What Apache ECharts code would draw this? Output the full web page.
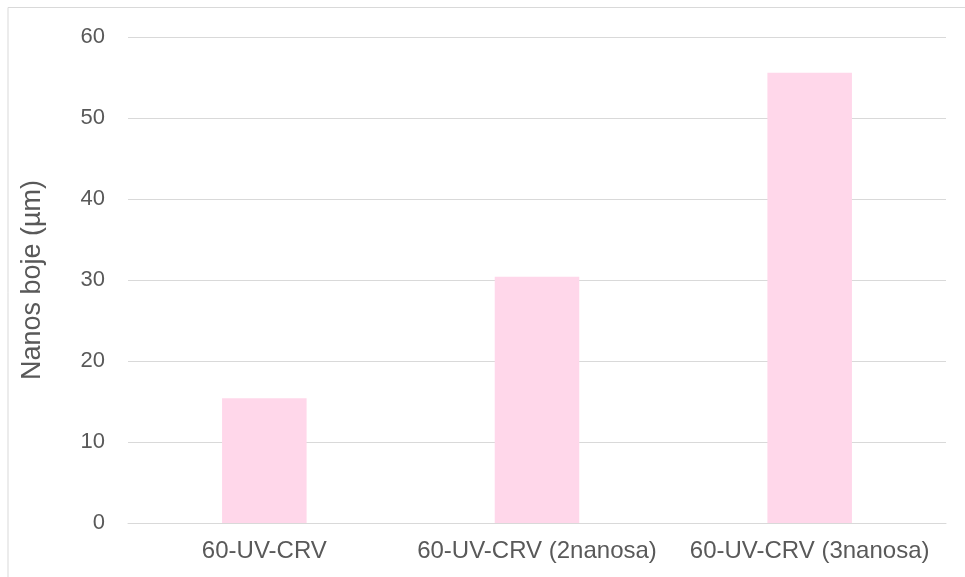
<!DOCTYPE html>
<html>
<head>
<meta charset="utf-8">
<script src="https://cdn.jsdelivr.net/npm/echarts@6/dist/echarts.min.js"></script>
<style>
  html, body { margin: 0; padding: 0; background: #fff; }
  #chart { width: 965px; height: 577px; }
</style>
</head>
<body>
<div id="chart"></div>
<script>
const categories = ['60-UV-CRV', '60-UV-CRV (2nanosa)', '60-UV-CRV (3nanosa)'];
const values = [15.4, 30.4, 55.6];
const yTicks = { min: 0, max: 60, interval: 10 };

const chart = echarts.init(document.getElementById('chart'));
const textColor = '#595959';
const lineColor = '#d9d9d9';

chart.setOption({
  animation: false,
  backgroundColor: '#fff',
  textStyle: { fontFamily: 'Liberation Sans, Arial, sans-serif' },
  graphic: [{
    type: 'rect',
    shape: { x: 8, y: 7.5, width: 1000, height: 600 },
    style: { fill: 'none', stroke: lineColor, lineWidth: 1 },
    silent: true,
    z: -1
  }],
  grid: { left: 128, right: 19, top: 37, bottom: 54 },
  xAxis: {
    type: 'category',
    data: categories,
    axisLine: { lineStyle: { color: lineColor, width: 1 } },
    axisTick: { show: false },
    axisLabel: { color: textColor, fontSize: 24, margin: 16, interval: 0 }
  },
  yAxis: {
    type: 'value',
    min: yTicks.min,
    max: yTicks.max,
    interval: yTicks.interval,
    name: 'Nanos boje (µm)',
    nameLocation: 'middle',
    nameGap: 82,
    nameRotate: 90,
    nameTextStyle: { color: textColor, fontSize: 27 },
    axisLine: { show: false },
    axisTick: { show: false },
    axisLabel: { color: textColor, fontSize: 22, margin: 23 },
    splitLine: { lineStyle: { color: lineColor, width: 1 } }
  },
  series: [{
    type: 'bar',
    data: values,
    barWidth: '31%',
    itemStyle: { color: '#ffd7ea' }
  }]
});
</script>
</body>
</html>
